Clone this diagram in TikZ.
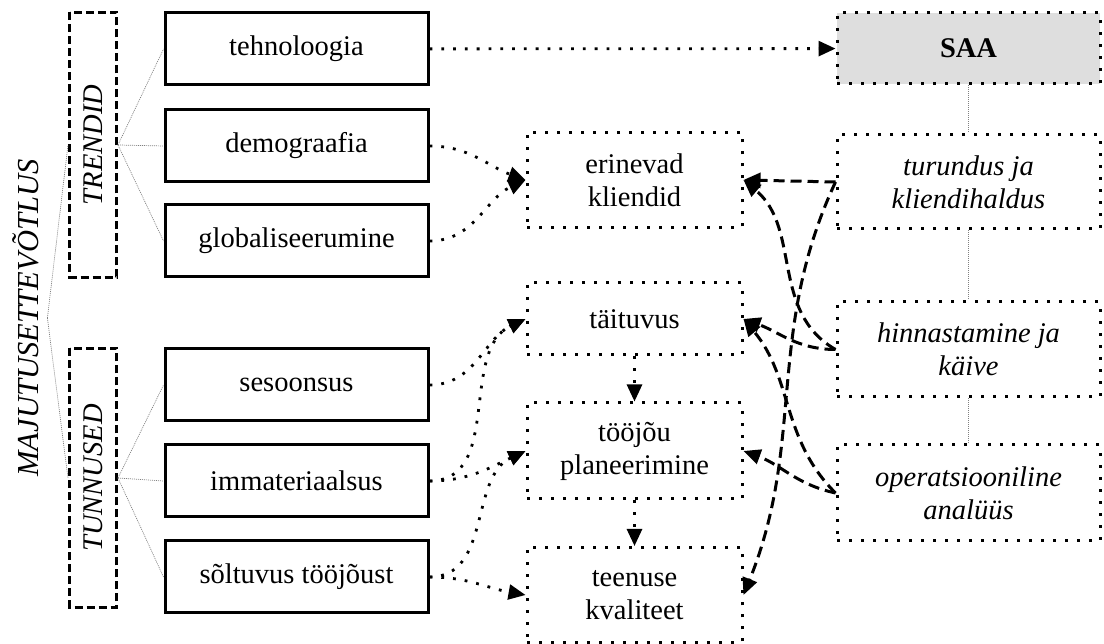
\documentclass[tikz,border=0pt]{standalone}
\usepackage{fontspec}
\setmainfont{Liberation Serif}
\usetikzlibrary{arrows.meta}

\begin{document}
\begin{tikzpicture}[x=1pt,y=1pt,
    every node/.style={font=\fontsize{28.5}{33}\selectfont, align=center, inner sep=0pt},
    factor/.style={draw, line width=3pt, minimum width=263pt, minimum height=72pt},
    group/.style={draw, line width=3pt, dash pattern=on 8pt off 4pt, minimum height=47pt, rotate=90,
        font=\fontsize{28.5}{33}\selectfont\itshape},
    effect/.style={draw, line width=3pt, dash pattern=on 3pt off 9pt, minimum width=215pt},
    area/.style={draw, line width=3pt, dash pattern=on 3pt off 9pt, minimum width=263pt,
        font=\fontsize{28.5}{33}\selectfont\itshape},
    link/.style={gray, line width=0.7pt, dash pattern=on 1pt off 1pt},
    feeds/.style={line width=2.8pt, dash pattern=on 2.8pt off 9pt, -{Triangle[length=17pt,width=15pt]}},
    drives/.style={line width=3pt, dash pattern=on 11pt off 6pt, -{Triangle[length=17pt,width=15pt]}}
]
\useasboundingbox (0,0) rectangle (1104,644);

% Main heading
\node[rotate=90, inner sep=8pt, font=\fontsize{30.5}{33}\selectfont\itshape] (maj) at (26,326) {MAJUTUSETTEVÕTLUS};

% Groups (rotated: south is the right side)
\node[group, minimum width=265pt] (trend) at (93,499) {TRENDID};
\node[group, minimum width=259pt] (tunn) at (93,166) {TUNNUSED};

% Factors
\node[factor] (tech) at (296.5,595) {tehnoloogia};
\node[factor] (demo) at (296.5,498) {demograafia};
\node[factor] (glob) at (296.5,403) {globaliseerumine};
\node[factor] (ses) at (296.5,259) {sesoonsus};
\node[factor] (imm) at (296.5,163) {immateriaalsus};
\node[factor] (solt) at (296.5,67) {sõltuvus tööjõust};

% Effects
\node[effect, minimum height=95pt] (erin) at (634.5,464) {erinevad\\kliendid};
\node[effect, minimum height=72pt] (tait) at (634.5,325) {täituvus};
\node[effect, minimum height=96pt] (tooj) at (634.5,193) {tööjõu\\planeerimine};
\node[effect, minimum height=95pt] (teen) at (634.5,49) {teenuse\\kvaliteet};

% SAA areas
\node[area, minimum height=71pt, fill=gray!26, font=\fontsize{28.5}{33}\selectfont\bfseries] (saa) at (968.5,595.5) {SAA};
\node[area, minimum height=94pt] (tur) at (968.5,462) {turundus ja\\kliendihaldus};
\node[area, minimum height=95pt] (hin) at (968.5,294.5) {hinnastamine ja\\käive};
\node[area, minimum height=96pt] (op) at (968.5,151) {operatsiooniline\\analüüs};

% Thin links
\draw[link] (maj.south) -- (trend.north);
\draw[link] (maj.south) -- (tunn.north);
\foreach \f in {tech,demo,glob}
    \draw[link] (trend.south) -- (\f.west);
\foreach \f in {ses,imm,solt}
    \draw[link] (tunn.south) -- (\f.west);
\draw[link] (saa) -- (tur);
\draw[link] (tur) -- (hin);
\draw[link] (hin) -- (op);

% Dotted arrows
\draw[feeds] (tech) -- (saa);
\draw[feeds] (demo.east) to[out=0,in=160] (erin.west);
\draw[feeds] (glob.east) to[out=0,in=205] (erin.west);
\draw[feeds] (ses.east) to[out=0,in=205] (tait.west);
\draw[feeds] (imm.east) to[out=0,in=205] (tait.west);
\draw[feeds] (imm.east) to[out=0,in=205] (tooj.west);
\draw[feeds] (solt.east) to[out=0,in=205] (tooj.west);
\draw[feeds] (solt.east) to[out=0,in=170] (teen.west);
\draw[feeds] (tait) -- (tooj);
\draw[feeds] (tooj) -- (teen);

% Dashed arrows
\draw[drives] (tur.west) -- (erin.east);
\draw[drives] (tur.west) to[out=245,in=68] (teen.east);
\draw[drives] (hin.west) to[out=150,in=-40] (erin.east);
\draw[drives] (hin.west) to[out=180,in=-20] (tait.east);
\draw[drives] (op.west) to[out=135,in=-50] (tait.east);
\draw[drives] (op.west) to[out=168,in=-20] (tooj.east);

\end{tikzpicture}
\end{document}
